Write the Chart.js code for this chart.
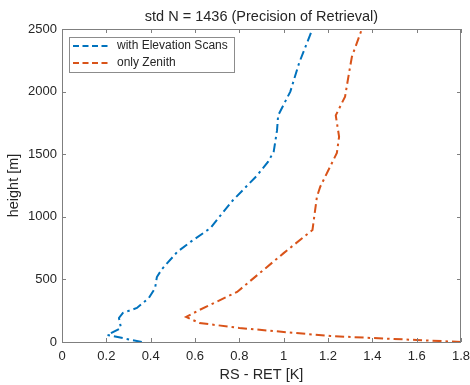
<!DOCTYPE html>
<html>
<head>
<meta charset="utf-8">
<script src="https://cdn.jsdelivr.net/npm/chart.js@4"></script>
<style>
  html, body { margin: 0; padding: 0; background: #fff; overflow: hidden; }
  #wrap { width: 470px; height: 385px; position: relative; }
</style>
</head>
<body>
<div id="wrap"><canvas id="chart"></canvas></div>
<script>
// values
const titleText = "std N = 1436 (Precision of Retrieval)";
const seriesNames = ["with Elevation Scans", "only Zenith"];

const elevHeight = [0, 56, 112, 192, 232, 272, 352, 431, 519, 580, 720, 800, 910, 1000, 1130, 1330, 1440, 1520, 1690, 1810, 2000, 2230, 2500];
const elevStd = [0.36, 0.205, 0.266, 0.257, 0.275, 0.338, 0.392, 0.42, 0.428, 0.45, 0.52, 0.58, 0.67, 0.71, 0.77, 0.88, 0.93, 0.955, 0.97, 0.975, 1.03, 1.07, 1.13];

const zenHeight = [0, 16, 32, 48, 80, 112, 152, 200, 256, 400, 710, 895, 1160, 1240, 1510, 1640, 1810, 1960, 2150, 2280, 2500];
const zenStd = [1.8, 1.6, 1.4, 1.21, 1.0, 0.8, 0.62, 0.56, 0.62, 0.79, 1.0, 1.13, 1.15, 1.165, 1.24, 1.25, 1.235, 1.277, 1.295, 1.308, 1.353];

const xRange = [0, 1.8];
const yRange = [0, 2500];

const colors = ["#0072BD", "#D95319"];
const dashDot = [9, 4, 2.5, 4];
const textColor = "#262626";
const axisColor = "#7f7f7f";
const fontFamily = "'Liberation Sans', Arial, Helvetica, sans-serif";

const toPoints = (xs, hs) => xs.map((v, i) => ({ x: v, y: hs[i] }));

// MATLAB-like box with inward ticks, title and inset legend
const matlabAxes = {
    id: "matlabAxes",
    afterDraw(chart) {
        const { ctx, chartArea: a, scales } = chart;
        ctx.save();
        ctx.strokeStyle = axisColor;
        ctx.lineWidth = 1;
        ctx.strokeRect(Math.round(a.left) + 0.5, Math.round(a.top) + 0.5,
            Math.round(a.right - a.left) - 1, Math.round(a.bottom - a.top));

        const tl = 4;
        ctx.beginPath();
        scales.x.ticks.forEach(t => {
            const px = Math.round(scales.x.getPixelForValue(t.value)) + 0.5;
            ctx.moveTo(px, a.bottom); ctx.lineTo(px, a.bottom - tl);
            ctx.moveTo(px, a.top); ctx.lineTo(px, a.top + tl);
        });
        scales.y.ticks.forEach(t => {
            const py = Math.round(scales.y.getPixelForValue(t.value)) + 0.5;
            ctx.moveTo(a.left, py); ctx.lineTo(a.left + tl, py);
            ctx.moveTo(a.right, py); ctx.lineTo(a.right - tl, py);
        });
        ctx.stroke();

        // title
        ctx.fillStyle = textColor;
        ctx.font = "14.5px " + fontFamily;
        ctx.textAlign = "center";
        ctx.textBaseline = "middle";
        ctx.fillText(titleText, (a.left + a.right) / 2, 17);

        // legend
        const lx = 69, ly = 37, lw = 165, lh = 35;
        ctx.fillStyle = "#fff";
        ctx.fillRect(lx, ly, lw, lh);
        ctx.strokeStyle = "#8c8c8c";
        ctx.strokeRect(lx + 0.5, ly + 0.5, lw, lh);
        ctx.font = "12px " + fontFamily;
        ctx.textAlign = "left";
        seriesNames.forEach((name, i) => {
            const ry = 46 + i * 17;
            ctx.strokeStyle = colors[i];
            ctx.lineWidth = 2;
            ctx.setLineDash([6, 3.5]);
            ctx.beginPath();
            ctx.moveTo(73, ry); ctx.lineTo(111, ry);
            ctx.stroke();
            ctx.setLineDash([]);
            ctx.fillStyle = textColor;
            ctx.fillText(name, 117, ry);
        });
        ctx.restore();
    }
};

const ctx = document.getElementById("chart").getContext("2d");
new Chart(ctx, {
    type: "scatter",
    data: {
        datasets: [
            {
                label: seriesNames[0],
                data: toPoints(elevStd, elevHeight),
                showLine: true,
                borderColor: colors[0],
                backgroundColor: colors[0],
                borderWidth: 2,
                borderDash: dashDot,
                pointRadius: 0,
                tension: 0,
            },
            {
                label: seriesNames[1],
                data: toPoints(zenStd, zenHeight),
                showLine: true,
                borderColor: colors[1],
                backgroundColor: colors[1],
                borderWidth: 2,
                borderDash: dashDot,
                pointRadius: 0,
                tension: 0,
            },
        ],
    },
    options: {
        responsive: true,
        maintainAspectRatio: false,
        animation: false,
        layout: { padding: { top: 29, right: 9, bottom: 0, left: 0 } },
        plugins: {
            legend: { display: false },
            title: { display: false },
            tooltip: { enabled: false },
        },
        scales: {
            x: {
                type: "linear",
                min: xRange[0],
                max: xRange[1],
                grid: { display: false, drawTicks: false },
                border: { display: false },
                ticks: {
                    stepSize: 0.2,
                    color: textColor,
                    font: { family: fontFamily, size: 13 },
                    padding: 7,
                    maxRotation: 0,
                    callback: v => String(Math.round(v * 10) / 10),
                },
                title: {
                    display: true,
                    text: "RS - RET [K]",
                    color: textColor,
                    font: { family: fontFamily, size: 14.5 },
                    padding: { top: 0, bottom: 1.5 },
                },
                afterFit(scale) {
                    scale.height = 43;
                    scale.paddingLeft = 0;
                    scale.paddingRight = 0;
                },
            },
            y: {
                type: "linear",
                min: yRange[0],
                max: yRange[1],
                grid: { display: false, drawTicks: false },
                border: { display: false },
                ticks: {
                    stepSize: 500,
                    color: textColor,
                    font: { family: fontFamily, size: 13 },
                    padding: 5,
                    callback: v => String(v),
                },
                title: {
                    display: true,
                    text: "height [m]",
                    color: textColor,
                    font: { family: fontFamily, size: 14.5 },
                    padding: { top: 5, bottom: 0 },
                },
                afterFit(scale) {
                    scale.width = 62;
                    scale.paddingTop = 0;
                    scale.paddingBottom = 0;
                },
            },
        },
    },
    plugins: [matlabAxes],
});
</script>
</body>
</html>
